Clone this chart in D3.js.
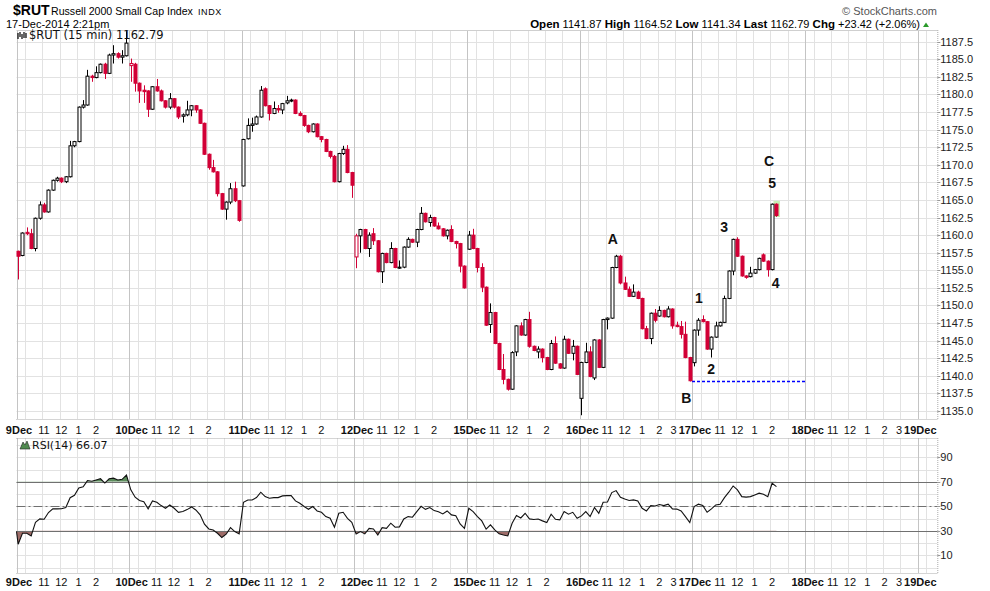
<!DOCTYPE html>
<html><head><meta charset="utf-8">
<script src="https://cdn.jsdelivr.net/npm/d3@7"></script>
<style>
body{margin:0;background:#fff;}
svg{display:block;font-family:"Liberation Sans",Arial,sans-serif;}
</style>
</head><body>
<svg id="c" width="990" height="591"></svg>
<script>
// ---------------- DATA ----------------
const symbol = "$RUT";
const titleName = "Russell 2000 Small Cap Index";
const exchange = "INDX";
const stamp = "17-Dec-2014 2:21pm";
const stats = [["Open","1141.87"],["High","1164.52"],["Low","1141.34"],["Last","1162.79"],["Chg","+23.42 (+2.06%)"]];
const dayLabels = ["9Dec","10Dec","11Dec","12Dec","15Dec","16Dec","17Dec","18Dec","19Dec"];
const hourLabels = ["11","12","1","2","3"];
const hourSlots = [6,10,14,18,22];
const gridSlots = [0,2,6,10,14,18,22];
const priceTicks = [1135,1137.5,1140,1142.5,1145,1147.5,1150,1152.5,1155,1157.5,1160,1162.5,1165,1167.5,1170,1172.5,1175,1177.5,1180,1182.5,1185,1187.5];
const rsiTicks = [10,30,50,70,90];
const priorClose = 1160.4;
const priorRsi = 29.5;

// OHLC per 15-min bar [open, high, low, close]
const dec09 = [
[1157.7,1157.8,1153.7,1157.0],[1157.1,1160.4,1157.0,1160.3],[1160.4,1161.1,1160.0,1160.2],[1160.2,1160.9,1158.0,1158.1],
[1158.1,1162.5,1157.7,1162.4],[1162.4,1164.8,1162.2,1164.3],[1164.3,1164.6,1163.2,1163.3],[1163.3,1166.5,1163.2,1166.4],
[1166.4,1167.9,1166.3,1167.8],[1167.8,1168.3,1167.6,1168.1],[1168.1,1168.2,1167.4,1167.6],[1167.6,1168.4,1167.4,1168.3],
[1168.3,1173.4,1168.2,1172.7],[1172.7,1173.4,1172.5,1173.3],[1173.3,1178.3,1173.2,1178.2],[1178.2,1179.2,1178.0,1178.5],
[1178.5,1183.5,1178.4,1182.6],[1182.6,1182.8,1181.8,1182.4],[1182.4,1184.0,1182.3,1183.1],[1183.1,1184.4,1183.0,1184.3],
[1184.3,1184.5,1182.2,1183.0],[1183.0,1185.8,1182.9,1185.6],[1185.6,1187.0,1184.4,1185.8],[1185.8,1186.0,1185.1,1185.3],
[1185.3,1186.3,1184.4,1185.5],[1185.5,1189.0,1185.4,1187.3]];
const dec10 = [
[1184.1,1185.1,1181.8,1184.4],[1184.3,1184.5,1180.4,1181.6],[1181.6,1181.7,1178.8,1180.5],[1180.6,1181.3,1178.8,1180.4],
[1180.5,1180.6,1176.8,1177.9],[1177.9,1181.2,1177.8,1181.1],[1181.1,1182.2,1180.4,1180.5],[1180.5,1180.7,1179.0,1179.1],
[1179.1,1179.2,1178.0,1178.2],[1178.2,1180.2,1177.9,1179.4],[1179.4,1179.5,1178.0,1178.2],[1178.2,1178.3,1176.5,1176.8],
[1176.9,1177.3,1176.0,1177.1],[1177.1,1179.1,1176.9,1177.8],[1177.8,1178.5,1176.9,1178.4],[1178.4,1178.5,1177.4,1177.8],
[1177.8,1177.9,1175.8,1175.9],[1175.9,1176.0,1171.4,1171.5],[1171.5,1171.6,1169.3,1169.6],[1169.6,1170.7,1168.9,1169.0],
[1169.0,1169.1,1165.5,1165.9],[1165.9,1166.0,1163.6,1163.7],[1163.7,1164.8,1162.2,1164.7],[1164.7,1167.4,1164.4,1166.6],
[1166.6,1167.6,1164.7,1164.9],[1164.9,1165.0,1161.9,1162.1]];
const dec11 = [
[1167.0,1173.7,1166.9,1173.6],[1173.7,1176.6,1173.6,1175.6],[1175.6,1176.7,1174.7,1175.8],[1175.8,1177.0,1175.7,1176.8],
[1176.8,1181.2,1176.7,1180.6],[1180.8,1181.0,1178.3,1178.4],[1178.4,1178.5,1176.3,1177.3],[1177.3,1179.0,1177.2,1178.0],
[1178.0,1178.5,1177.4,1177.8],[1177.8,1178.8,1177.2,1178.7],[1178.8,1179.8,1178.6,1179.1],[1179.1,1179.4,1178.9,1179.2],
[1179.2,1179.3,1177.2,1177.3],[1177.3,1177.6,1176.9,1177.0],[1177.0,1177.1,1175.4,1175.6],[1175.6,1175.7,1174.5,1174.7],
[1174.7,1175.9,1174.6,1175.8],[1175.8,1175.9,1173.9,1174.0],[1174.0,1174.1,1173.2,1173.6],[1173.6,1173.7,1171.8,1171.9],
[1171.9,1172.0,1170.9,1171.2],[1171.2,1171.4,1167.5,1167.6],[1167.6,1171.7,1167.5,1171.6],[1171.6,1172.7,1171.4,1172.2],
[1172.2,1172.8,1168.8,1168.9],[1168.9,1169.0,1165.3,1167.1]];
const dec12 = [
[1156.9,1160.2,1155.3,1159.9],[1159.9,1160.9,1157.5,1160.8],[1160.8,1160.9,1158.0,1158.1],[1158.1,1160.4,1156.9,1160.0],
[1160.2,1161.0,1158.6,1159.2],[1159.2,1159.3,1154.7,1154.8],[1154.8,1157.5,1153.2,1157.4],[1157.4,1157.5,1156.0,1156.1],
[1156.1,1159.0,1156.0,1158.1],[1158.1,1158.2,1155.3,1155.4],[1155.3,1156.4,1155.2,1155.45],[1155.45,1158.4,1155.3,1158.3],
[1158.3,1159.7,1158.2,1159.4],[1159.4,1159.5,1158.9,1159.0],[1159.0,1160.9,1158.3,1160.8],[1160.8,1164.0,1160.7,1163.1],
[1163.1,1163.2,1161.8,1161.9],[1161.8,1162.9,1161.2,1162.5],[1162.5,1162.6,1161.2,1161.3],[1161.3,1161.8,1160.8,1160.9],
[1160.9,1161.0,1159.8,1159.9],[1159.9,1160.8,1159.4,1160.7],[1160.8,1161.4,1159.0,1159.1],[1159.1,1159.2,1158.1,1158.8],
[1158.8,1158.9,1154.7,1155.6],[1155.6,1155.7,1152.4,1152.5]];
const dec15 = [
[1158.0,1160.6,1157.9,1160.0],[1160.0,1160.9,1158.0,1158.1],[1158.1,1158.2,1154.7,1155.4],[1155.4,1156.0,1151.9,1152.6],
[1152.6,1152.7,1147.1,1147.2],[1147.3,1150.3,1146.1,1149.0],[1149.0,1149.1,1144.5,1144.6],[1144.6,1144.7,1140.8,1140.9],
[1140.9,1143.1,1138.8,1139.5],[1139.5,1139.6,1137.9,1138.1],[1138.1,1143.5,1138.0,1143.3],[1143.4,1147.2,1142.8,1147.1],
[1147.1,1147.6,1145.7,1145.8],[1145.8,1148.1,1145.7,1148.0],[1148.0,1149.1,1144.0,1144.2],[1144.2,1144.3,1143.5,1143.6],
[1143.4,1144.2,1142.5,1143.8],[1143.8,1143.9,1141.9,1142.6],[1142.6,1142.7,1140.8,1140.9],[1140.9,1145.1,1140.8,1144.6],
[1144.6,1145.6,1141.7,1141.8],[1141.7,1141.8,1141.0,1141.1],[1141.1,1145.7,1141.0,1145.2],[1145.2,1145.3,1143.1,1143.2],
[1143.2,1145.1,1142.2,1144.2],[1144.2,1144.3,1140.1,1140.2]];
const dec16 = [
[1136.8,1142.0,1134.4,1141.9],[1141.9,1144.7,1141.8,1143.4],[1143.4,1144.2,1139.8,1139.9],[1139.7,1145.2,1139.4,1145.1],
[1145.1,1145.2,1141.1,1141.2],[1141.2,1148.1,1141.1,1148.0],[1148.0,1148.3,1146.6,1148.2],[1148.2,1155.5,1148.1,1155.4],
[1155.4,1157.2,1155.3,1157.0],[1157.0,1157.2,1153.0,1153.2],[1153.2,1154.1,1152.2,1152.3],[1152.3,1152.7,1151.2,1151.3],
[1151.3,1153.0,1151.2,1151.9],[1151.9,1152.1,1150.9,1151.0],[1151.0,1151.1,1146.6,1146.7],[1146.7,1147.1,1145.2,1145.3],
[1145.3,1149.0,1144.5,1148.9],[1148.9,1149.5,1147.6,1147.9],[1148.5,1149.9,1148.4,1149.3],[1149.3,1149.4,1148.3,1148.4],
[1148.4,1149.9,1148.3,1149.5],[1149.5,1149.6,1146.7,1147.1],[1147.2,1147.7,1146.9,1147.0],[1147.0,1147.8,1145.3,1145.9],
[1145.9,1147.7,1142.5,1142.6],[1142.6,1142.7,1139.2,1139.3]];
const dec17 = [
[1141.87,1146.6,1141.34,1146.5],[1146.5,1148.2,1145.7,1147.9],[1148.0,1148.6,1147.6,1147.7],[1147.7,1147.8,1143.7,1143.8],
[1143.8,1145.6,1142.6,1145.5],[1145.5,1147.7,1145.4,1147.1],[1147.1,1147.7,1147.0,1147.6],[1147.6,1151.4,1147.5,1151.0],
[1151.0,1155.0,1150.9,1154.9],[1154.9,1159.5,1154.3,1159.4],[1159.4,1159.7,1156.9,1157.0],[1157.0,1157.1,1154.1,1154.2],
[1154.2,1154.3,1153.8,1154.0],[1154.1,1155.5,1154.0,1154.6],[1154.6,1155.2,1154.5,1155.1],[1155.1,1156.8,1155.0,1156.7],
[1157.2,1157.4,1156.2,1156.3],[1156.3,1156.4,1154.1,1155.1],[1155.1,1164.5,1155.0,1164.4],[1164.4,1164.52,1162.6,1162.79]];

// RSI(14) per bar
const rsi09 = [19,28,28,25.8,37,39.7,39.4,44.9,47.9,47.9,48,49,57,59,65,66,71,70.5,71.5,72.5,69,72.5,73,71.5,72,75.5];
const rsi10 = [63.4,57.4,54.7,53.8,47.9,54.4,53.3,50.6,48.4,51.1,48.4,45.1,45.7,47.3,49.5,47,43,35.4,31.5,30.7,28,24.5,27.2,32.6,29.4,27.5];
const rsi11 = [53.3,55.2,55.2,57.1,61.5,57.9,56.6,57.1,57.1,58.5,58.7,58.7,54.4,52.5,49.8,47.6,49.8,46.2,45.1,41.6,40.2,32.9,44.3,45.1,40.2,37];
const rsi12 = [27.5,29.4,27.5,32,31.5,26.6,32.6,32,36.2,32.9,33.2,39.7,41.6,41.1,45.7,50,47.5,49,46.5,45.5,43.8,46.2,43,42.3,35.6,32];
const rsi15 = [48.4,45.7,41.6,38.1,31.3,34.8,30.7,27.5,26.6,25.8,36.2,42.5,40.5,44.3,39.7,39.2,39.6,38.1,36.7,43.5,39.4,38.9,45.7,43.6,45.1,40.2];
const rsi16 = [42.2,45.7,41.6,49,44.3,53.3,53.5,61.2,62.8,57.4,56,54.7,55.2,54.4,48.4,46.2,50.6,50.2,51.5,50.6,51.7,47.9,47.7,46.2,41.6,36.7];
const rsi17 = [49.8,51.7,50.6,45.1,47.9,51.1,51.7,57.1,61.5,66.6,63.4,57.9,57.5,57.9,59.3,60.7,59.8,57.9,68.8,66.07];

// Elliott-wave annotations: [label, bar slot, price]
const waveLabels = [["A",137.6,1159.4],["B",154.6,1136.8],["1",157.5,1151.0],["2",160.3,1140.9],
                    ["3",163.3,1161.1],["4",175.2,1153.2],["5",174.4,1167.4],["C",173.7,1170.5]];
const supportLine = {from:155.8, to:182, value:1139.3};

// ---------------- CHART ----------------
const BARS = 26;
const svg = d3.select("#c");
const L = 16.5, R = 937.3;
const main = {top:30, bottom:419};
const rp = {top:438, bottom:573};
const x = d3.scaleLinear().domain([0,212.5]).range([L,R]);
const yP = d3.scaleLinear().domain([1135,1187.5]).range([411,41.7]);
const yR = d3.scaleLinear().domain([10,90]).range([555.3,457.3]);
const OFF = 0.38;
const RED = "#d20036";

const days = [dec09,dec10,dec11,dec12,dec15,dec16,dec17];
const rsiDays = [rsi09,rsi10,rsi11,rsi12,rsi15,rsi16,rsi17];
const candles = [];
days.forEach((d,di)=>d.forEach((c,i)=>candles.push({slot:di*BARS+i, o:c[0],h:c[1],l:c[2],c:c[3]})));
candles.forEach((c,k)=>{ c.prev = k? candles[k-1].c : priorClose; });
const rsi = [{slot:-OFF, v:priorRsi}];
rsiDays.forEach((d,di)=>d.forEach((v,i)=>rsi.push({slot:di*BARS+i, v})));

// grids
function vgrid(top,bottom){
  const g = svg.append("g");
  dayLabels.forEach((dl,di)=>{
    gridSlots.forEach(s=>{
      const px = Math.round(x(di*BARS+s))+0.5;
      if(px>R) return;
      g.append("line").attr("x1",px).attr("x2",px).attr("y1",top).attr("y2",bottom)
        .attr("stroke", s===0? "#c4c4c4":"#e2e2e2").attr("stroke-width",1);
    });
  });
}
priceTicks.forEach(t=>{
  const py = Math.round(yP(t))+0.5;
  svg.append("line").attr("x1",L).attr("x2",R).attr("y1",py).attr("y2",py).attr("stroke","#e2e2e2");
});
vgrid(main.top, main.bottom);
svg.append("line").attr("x1",L).attr("x2",R).attr("y1",main.top+0.5).attr("y2",main.top+0.5).attr("stroke","#cfcfcf");
svg.append("line").attr("x1",L).attr("x2",R).attr("y1",main.bottom+0.5).attr("y2",main.bottom+0.5).attr("stroke","#aaa").attr("stroke-dasharray","1,1");
svg.append("line").attr("x1",R+0.5).attr("x2",R+0.5).attr("y1",main.top).attr("y2",main.bottom).attr("stroke","#aaa").attr("stroke-dasharray","1,1");

d3.range(0,101,10).forEach(t=>{
  const py = Math.round(yR(t))+0.5;
  if(py<rp.top||py>rp.bottom) return;
  svg.append("line").attr("x1",L).attr("x2",R).attr("y1",py).attr("y2",py).attr("stroke","#e2e2e2");
});
vgrid(rp.top, rp.bottom);
svg.append("line").attr("x1",L).attr("x2",R).attr("y1",rp.top+0.5).attr("y2",rp.top+0.5).attr("stroke","#aaa").attr("stroke-dasharray","1,1");
svg.append("line").attr("x1",L).attr("x2",R).attr("y1",rp.bottom+0.5).attr("y2",rp.bottom+0.5).attr("stroke","#aaa").attr("stroke-dasharray","1,1");
svg.append("line").attr("x1",R+0.5).attr("x2",R+0.5).attr("y1",rp.top).attr("y2",rp.bottom).attr("stroke","#aaa").attr("stroke-dasharray","1,1");

// price axis labels
priceTicks.forEach(t=>{
  const py = Math.round(yP(t))+0.5;
  svg.append("line").attr("x1",R).attr("x2",R+3).attr("y1",py).attr("y2",py).attr("stroke","#999");
  svg.append("text").attr("x",R+3).attr("y",yP(t)+4).attr("font-size",11).attr("fill","#222").text(t.toFixed(1));
});
rsiTicks.forEach(t=>{
  const py = Math.round(yR(t))+0.5;
  svg.append("line").attr("x1",R).attr("x2",R+3).attr("y1",py).attr("y2",py).attr("stroke","#999");
  svg.append("text").attr("x",R+3).attr("y",yR(t)+4).attr("font-size",11).attr("fill","#222").text(t);
});

// x-axis labels (two rows)
function xlabels(base){
  dayLabels.forEach((dl,di)=>{
    svg.append("text").attr("x",x(di*BARS)+2.5).attr("y",base).attr("text-anchor","middle")
      .attr("font-size",11).attr("font-weight","bold").attr("fill","#111").text(dl);
    hourLabels.forEach((h,hi)=>{
      if(h==="3" && !(di===5||di===7)) return;
      const px = x(di*BARS+hourSlots[hi]) + (h==="3"? -1.5 : 1.5);
      if(px>R) return;
      svg.append("text").attr("x",px).attr("y",base).attr("text-anchor","middle")
        .attr("font-size",11).attr("fill","#111").text(h);
    });
  });
}
xlabels(434);
xlabels(586);

// support dashed line (blue)
const sy = Math.round(yP(supportLine.value));
svg.append("line").attr("x1",Math.round(x(supportLine.from))).attr("x2",Math.round(x(supportLine.to)))
  .attr("y1",sy+0.5).attr("y2",sy+0.5)
  .style("stroke","rgb(0,0,255)").style("stroke-width","1.6px").style("stroke-dasharray","3,2");

// last bar highlight
const last = candles[candles.length-1];
svg.append("rect").attr("x",x(last.slot+OFF)-3).attr("width",6.5)
  .attr("y",yP(last.h)-2.5).attr("height",yP(last.c)-yP(last.h)+4).attr("fill","#c6efb4");

// candles
const cg = svg.append("g");
candles.forEach(c=>{
  const cx = Math.round(x(c.slot+OFF))+0.5;
  const col = c.c < c.prev ? RED : "#000";
  const hollow = c.c >= c.o;
  const top = yP(Math.max(c.o,c.c)), bot = yP(Math.min(c.o,c.c));
  cg.append("line").attr("x1",cx).attr("x2",cx).attr("y1",yP(c.h)).attr("y2",yP(c.l)).attr("stroke",col).attr("stroke-width",1);
  const hgt = Math.max(1, bot-top);
  cg.append("rect").attr("x",cx-1.5).attr("width",3).attr("y",top).attr("height",hgt)
    .attr("fill", hollow? "#fff": col).attr("stroke",col).attr("stroke-width",1);
});

// wave labels
waveLabels.forEach(w=>{
  svg.append("text").attr("x",x(w[1])).attr("y",yP(w[2])+5).attr("text-anchor","middle")
    .attr("font-size",14).attr("font-weight","bold").attr("fill","#111").text(w[0]);
});

// RSI
const xr = d=>Math.max(L, x(d.slot+OFF));
const rsiLine = d3.line().x(xr).y(d=>yR(d.v));
const defs = svg.append("defs");
defs.append("clipPath").attr("id","above").append("rect").attr("x",L).attr("width",R-L).attr("y",rp.top).attr("height",yR(70)-rp.top);
defs.append("clipPath").attr("id","below").append("rect").attr("x",L).attr("width",R-L).attr("y",yR(30)).attr("height",rp.bottom-yR(30));
svg.append("path").datum(rsi).attr("clip-path","url(#above)")
  .attr("d",d3.area().x(xr).y0(yR(70)).y1(d=>yR(d.v))).attr("fill","#5c8c5c");
svg.append("path").datum(rsi).attr("clip-path","url(#below)")
  .attr("d",d3.area().x(xr).y0(yR(30)).y1(d=>yR(d.v))).attr("fill","#9e6c68");
[70,30].forEach(t=>{
  const py=Math.round(yR(t))+0.5;
  svg.append("line").attr("x1",L).attr("x2",R).attr("y1",py).attr("y2",py).attr("stroke","#707070");
});
svg.append("line").attr("x1",L).attr("x2",R).attr("y1",Math.round(yR(50))+0.5).attr("y2",Math.round(yR(50))+0.5)
  .attr("stroke","#707070").attr("stroke-dasharray","9,3,2,3");
svg.append("path").datum(rsi).attr("d",rsiLine).attr("fill","none").attr("stroke","#111").attr("stroke-width",1.1);

// legends
const lg = svg.append("g");
lg.append("path").attr("d","M18,33 v6 M20,32 v5 M22,34 v5 M24,32 v6 M26,33 v5").attr("stroke","#000").attr("stroke-width",1.2);
lg.append("text").attr("x",29).attr("y",39).attr("font-family","DejaVu Sans").attr("font-size",11.5).attr("fill","#111")
  .text(symbol+" (15 min) "+last.c.toFixed(2));
lg.append("path").attr("d","M20,449 L23,442 L25,445 L27,441 L30,449 Z").attr("fill","#4f8a4f").attr("stroke","#222").attr("stroke-width",0.6);
lg.append("text").attr("x",32).attr("y",449).attr("font-family","DejaVu Sans").attr("font-size",11).attr("fill","#111")
  .text("RSI(14) "+rsi[rsi.length-1].v.toFixed(2));

// header
svg.append("text").attr("x",13).attr("y",15).attr("font-size",14).attr("font-weight","bold").attr("fill","#000").text(symbol);
svg.append("text").attr("x",51).attr("y",15).attr("font-size",10.6).attr("fill","#000").text(titleName);
svg.append("text").attr("x",198).attr("y",15).attr("font-size",9).attr("letter-spacing",0.6).attr("fill","#000").text(exchange);
svg.append("text").attr("x",6).attr("y",27.5).attr("font-size",11).attr("fill","#000").text(stamp);
svg.append("text").attr("x",937).attr("y",14.5).attr("text-anchor","end").attr("font-size",11).attr("fill","#555").text("\u00A9 StockCharts.com");
const st = svg.append("text").attr("x",920).attr("y",28).attr("text-anchor","end").attr("font-size",11).attr("fill","#000");
stats.forEach((s,i)=>{
  st.append("tspan").attr("font-weight","bold").attr("font-size",11.5).text((i?"  ":"")+s[0]);
  st.append("tspan").text(" "+s[1]);
});
svg.append("path").attr("d","M923,27 L926,22.5 L929,27 Z").attr("fill","#2a9a2a");
</script>
</body></html>
